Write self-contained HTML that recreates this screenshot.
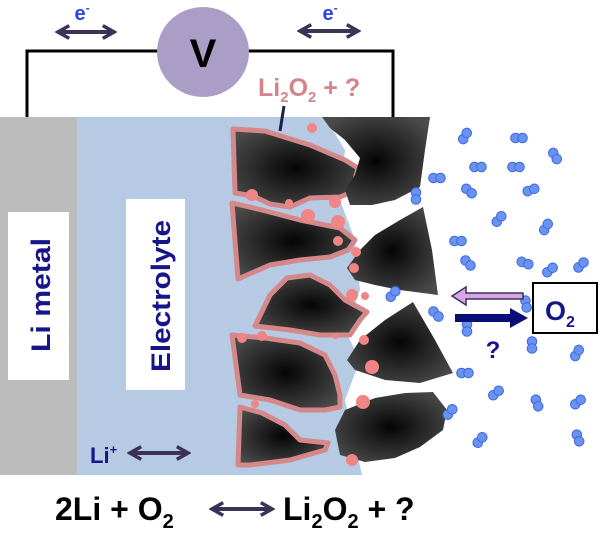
<!DOCTYPE html>
<html><head><meta charset="utf-8"><style>
html,body{margin:0;padding:0;background:#fff;}
svg{display:block;font-family:"Liberation Sans",sans-serif;}
</style></head><body>
<svg width="600" height="535" viewBox="0 0 600 535" xmlns="http://www.w3.org/2000/svg">
<defs>
<radialGradient id="g" cx="0.5" cy="0.5" r="0.6">
<stop offset="0" stop-color="#050505"/><stop offset="1" stop-color="#4a4a4a"/>
</radialGradient>
<marker id="ah" viewBox="0 0 10 10" refX="8" refY="5" markerWidth="4" markerHeight="4" orient="auto-start-reverse">
<path d="M1,1 L8,5 L1,9" fill="none" stroke="#3b3256" stroke-width="2.2"/>
</marker>
<g id="m"><circle cx="-3.5" cy="0" r="4.8" fill="#6a92f0" stroke="#3e6ae0"/><circle cx="3.5" cy="0" r="4.8" fill="#6a92f0" stroke="#3e6ae0"/></g>
</defs>
<polyline points="27,117 27,51 393,51 393,117" fill="none" stroke="#000" stroke-width="3"/>
<ellipse cx="203" cy="52" rx="46" ry="45" fill="#ab9ec6"/>
<text x="203" y="67" font-size="40" font-weight="bold" text-anchor="middle">V</text>
<text x="82" y="20" font-size="20" font-weight="bold" fill="#2a45e0" text-anchor="middle">e<tspan font-size="12" dy="-8">-</tspan></text>
<text x="330" y="20" font-size="20" font-weight="bold" fill="#2a45e0" text-anchor="middle">e<tspan font-size="12" dy="-8">-</tspan></text>
<line x1="58" y1="32" x2="114" y2="32" stroke="#3b3256" stroke-width="4" marker-start="url(#ah)" marker-end="url(#ah)"/>
<line x1="300" y1="31" x2="358" y2="31" stroke="#3b3256" stroke-width="4" marker-start="url(#ah)" marker-end="url(#ah)"/>
<rect x="0" y="117" width="77" height="358" fill="#bcbcbc"/>
<polygon points="77,117 325,117 345,150 340,200 355,240 360,290 345,330 360,360 345,400 362,475 77,475" fill="#b6cbe3"/>
<rect x="8" y="212" width="61" height="168" fill="#fff"/>
<text transform="translate(50,295) rotate(-90)" font-size="27" font-weight="bold" fill="#16168a" text-anchor="middle" textLength="114" lengthAdjust="spacingAndGlyphs">Li metal</text>
<rect x="126" y="199" width="59" height="191" fill="#fff"/>
<text transform="translate(170,296) rotate(-90)" font-size="27" font-weight="bold" fill="#16168a" text-anchor="middle" textLength="152" lengthAdjust="spacingAndGlyphs">Electrolyte</text>
<text x="90" y="463" font-size="22" font-weight="bold" fill="#16168a">Li<tspan font-size="13" dy="-9">+</tspan></text>
<line x1="130" y1="453" x2="188" y2="453" stroke="#3b3256" stroke-width="4" marker-start="url(#ah)" marker-end="url(#ah)"/>
<g fill="url(#g)" stroke="#d4888a" stroke-width="5" stroke-linejoin="round">
<polygon points="233,129 265,131 310,145 345,160 358,168 352,192 340,197 310,198 290,207 270,204 253,196 235,193"/>
<polygon points="232,203 262,210 300,220 340,228 355,240 348,250 330,257 300,260 270,265 238,279"/>
<polygon points="255,326 270,295 287,278 310,275 330,285 345,300 367,312 360,320 350,335 320,335 290,330"/>
<polygon points="232,335 265,338 300,343 325,355 335,375 340,395 340,407 325,410 300,410 270,400 240,395"/>
<polygon points="240,407 262,413 285,425 300,440 328,443 325,450 290,460 250,465 238,465"/>
</g>
<g fill="url(#g)">
<polygon points="322,117 430,117 425,150 420,187 395,200 372,205 350,205 345,190 355,175 360,158 345,140 330,128"/>
<polygon points="423,207 432,250 438,295 400,290 375,285 355,280 347,268 360,250 375,235 400,220"/>
<polygon points="413,302 435,340 453,373 420,383 385,380 355,370 347,360 360,340 385,320"/>
<polygon points="433,392 447,410 443,430 420,447 395,458 365,462 340,455 335,430 345,410 375,398 405,393"/>
</g>
<g fill="#ef8585">
<circle cx="312" cy="128" r="5"/><circle cx="252" cy="195" r="6"/><circle cx="289" cy="203" r="4"/><circle cx="335" cy="202" r="6"/>
<circle cx="308" cy="216" r="7"/><circle cx="338" cy="222" r="7"/><circle cx="338" cy="241" r="5"/><circle cx="356" cy="252" r="5"/>
<circle cx="354" cy="268" r="5"/><circle cx="352" cy="295" r="6"/><circle cx="365" cy="296" r="4"/><circle cx="364" cy="340" r="5"/>
<circle cx="372" cy="367" r="7"/><circle cx="242" cy="338" r="5"/><circle cx="262" cy="336" r="5"/><circle cx="363" cy="402" r="7"/>
<circle cx="352" cy="460" r="6"/><circle cx="255" cy="404" r="4"/><circle cx="335" cy="336" r="3"/>
</g>
<text x="258" y="96" font-size="25" font-weight="bold" fill="#d4848a">Li<tspan font-size="15" dy="6">2</tspan><tspan dy="-6">O</tspan><tspan font-size="15" dy="6">2</tspan><tspan dy="-6"> + ?</tspan></text>
<line x1="284" y1="106" x2="280" y2="131" stroke="#1e1e50" stroke-width="3"/>
<g>
<use href="#m" transform="translate(465,136) rotate(-60)"/><use href="#m" transform="translate(519,138)"/><use href="#m" transform="translate(555,156) rotate(60)"/>
<use href="#m" transform="translate(478,167)"/><use href="#m" transform="translate(516,167)"/><use href="#m" transform="translate(437,178)"/>
<use href="#m" transform="translate(416,196) rotate(90)"/><use href="#m" transform="translate(469,191) rotate(40)"/><use href="#m" transform="translate(531,190) rotate(-20)"/>
<use href="#m" transform="translate(499,219) rotate(-50)"/><use href="#m" transform="translate(546,227) rotate(-60)"/><use href="#m" transform="translate(458,241)"/>
<use href="#m" transform="translate(468,263) rotate(45)"/><use href="#m" transform="translate(525,263) rotate(20)"/><use href="#m" transform="translate(550,270) rotate(-40)"/>
<use href="#m" transform="translate(581,265) rotate(-45)"/><use href="#m" transform="translate(393,294) rotate(-50)"/><use href="#m" transform="translate(436,314) rotate(45)"/>
<use href="#m" transform="translate(467,328) rotate(90)"/><use href="#m" transform="translate(526,304) rotate(80)"/><use href="#m" transform="translate(532,345) rotate(90)"/>
<use href="#m" transform="translate(577,353) rotate(-60)"/><use href="#m" transform="translate(465,373)"/><use href="#m" transform="translate(496,393) rotate(-40)"/>
<use href="#m" transform="translate(537,403) rotate(70)"/><use href="#m" transform="translate(578,402) rotate(-40)"/><use href="#m" transform="translate(450,412) rotate(-50)"/>
<use href="#m" transform="translate(578,438) rotate(70)"/><use href="#m" transform="translate(480,440) rotate(-50)"/>
</g>
<rect x="533" y="283" width="64" height="50" fill="#fff" stroke="#000" stroke-width="2"/>
<text x="545" y="320" font-size="27" font-weight="bold" fill="#16168a">O<tspan font-size="16" dy="7">2</tspan></text>
<polygon points="452,296 466,287 466,293 523,293 523,299 466,299 466,305" fill="#d7a6e8" stroke="#3b3256" stroke-width="1.5"/>
<polygon points="455,314 510,314 510,308 528,318 510,328 510,322 455,322" fill="#0c0c78"/>
<text x="493" y="358" font-size="24" font-weight="bold" fill="#16168a" text-anchor="middle">?</text>
<text x="55" y="520" font-size="32" font-weight="bold">2Li  + O<tspan font-size="20" dy="8">2</tspan></text>
<line x1="212" y1="509" x2="272" y2="509" stroke="#3b3256" stroke-width="4" marker-start="url(#ah)" marker-end="url(#ah)"/>
<text x="283" y="520" font-size="32" font-weight="bold">Li<tspan font-size="20" dy="8">2</tspan><tspan dy="-8">O</tspan><tspan font-size="20" dy="8">2</tspan><tspan dy="-8"> + ?</tspan></text>
</svg>
</body></html>
